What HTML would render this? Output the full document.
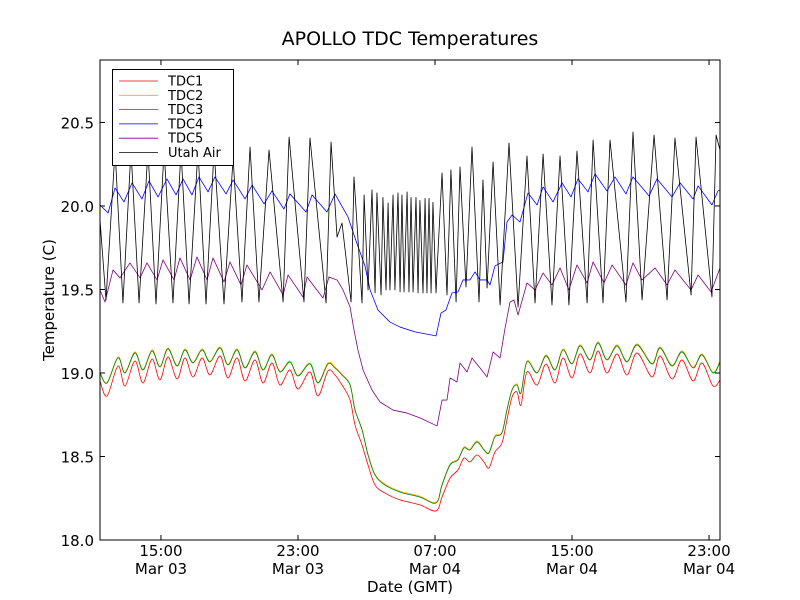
<!DOCTYPE html>
<html><head><meta charset="utf-8"><style>
html,body{margin:0;padding:0;background:#fff;}
svg{display:block;font-family:"DejaVu Sans","Liberation Sans",sans-serif;}
</style></head><body>
<svg id="chart" width="800" height="600" viewBox="0 0 800 600">
<rect x="0" y="0" width="800" height="600" fill="#fff"/>
<text x="410" y="45" text-anchor="middle" font-size="19">APOLLO TDC Temperatures</text>
<defs><clipPath id="pc"><rect x="100" y="60" width="620" height="480"/></clipPath></defs>
<g id="series" clip-path="url(#pc)"></g>
<rect x="100" y="60" width="620" height="480" fill="none" stroke="#000" stroke-width="1"/>
<g id="axes"></g>
<text x="410" y="592" text-anchor="middle" font-size="15">Date (GMT)</text>
<text transform="translate(54,300) rotate(-90)" text-anchor="middle" font-size="15">Temperature (C)</text>
<g id="legend"></g>
</svg>
<script>
// time in hours since Mar 03 00:00 GMT, temperature in C
const yTicks = [18.0, 18.5, 19.0, 19.5, 20.0, 20.5];
const xTickHours = [15, 23, 31, 39, 47];
const xTickTimes = ["15:00", "23:00", "07:00", "15:00", "23:00"];
const xTickDates = ["Mar 03", "Mar 03", "Mar 04", "Mar 04", "Mar 04"];
const seriesNames = ["TDC1", "TDC2", "TDC3", "TDC4", "TDC5", "Utah Air"];

const tdc3 = [[11.44,19.000],[11.85,18.940],[12.49,19.090],[12.90,19.000],[13.48,19.120],[13.95,19.018],[14.48,19.132],[14.94,19.036],[15.41,19.144],[15.94,19.042],[16.40,19.138],[16.87,19.060],[17.40,19.138],[17.86,19.066],[18.45,19.150],[18.91,19.048],[19.44,19.138],[19.91,19.030],[20.49,19.126],[20.96,19.018],[21.48,19.108],[21.95,19.006],[22.53,19.066],[23.00,18.982],[23.70,19.054],[24.17,18.940],[24.75,19.054],[25.16,19.030],[25.57,18.988],[26.04,18.928],[26.33,18.778],[26.74,18.659],[27.09,18.509],[27.50,18.389],[28.08,18.329],[28.96,18.287],[30.12,18.257],[31.06,18.222],[31.41,18.329],[31.88,18.449],[32.34,18.479],[32.69,18.551],[33.04,18.539],[33.45,18.587],[33.86,18.539],[34.15,18.521],[34.50,18.617],[34.91,18.641],[35.20,18.778],[35.50,18.898],[35.79,18.928],[36.02,18.880],[36.37,19.066],[36.96,19.000],[37.48,19.102],[38.01,19.018],[38.47,19.138],[39.00,19.054],[39.47,19.162],[40.05,19.078],[40.52,19.180],[41.04,19.078],[41.63,19.162],[42.21,19.066],[42.80,19.168],[43.67,19.054],[44.14,19.150],[44.84,19.042],[45.42,19.126],[46.07,19.030],[46.59,19.108],[47.23,19.000],[47.64,19.066]];
const tdc2 = [[11.44,19.004],[11.85,18.944],[12.49,19.096],[12.90,19.004],[13.48,19.126],[13.95,19.022],[14.48,19.138],[14.94,19.040],[15.41,19.150],[15.94,19.046],[16.40,19.144],[16.87,19.064],[17.40,19.144],[17.86,19.070],[18.45,19.156],[18.91,19.052],[19.44,19.144],[19.91,19.034],[20.49,19.132],[20.96,19.022],[21.48,19.114],[21.95,19.010],[22.53,19.072],[23.00,18.986],[23.70,19.060],[24.17,18.944],[24.75,19.060],[25.16,19.034],[25.57,18.992],[26.04,18.932],[26.33,18.782],[26.74,18.663],[27.09,18.513],[27.50,18.393],[28.08,18.335],[28.96,18.292],[30.12,18.262],[31.06,18.226],[31.41,18.333],[31.88,18.455],[32.34,18.484],[32.69,18.557],[33.04,18.543],[33.45,18.593],[33.86,18.543],[34.15,18.525],[34.50,18.623],[34.91,18.645],[35.20,18.782],[35.50,18.902],[35.79,18.934],[36.02,18.884],[36.37,19.072],[36.96,19.004],[37.48,19.108],[38.01,19.022],[38.47,19.144],[39.00,19.058],[39.47,19.168],[40.05,19.082],[40.52,19.186],[41.04,19.082],[41.63,19.168],[42.21,19.070],[42.80,19.174],[43.67,19.058],[44.14,19.156],[44.84,19.046],[45.42,19.132],[46.07,19.034],[46.59,19.114],[47.23,19.004],[47.64,19.072]];
const tdc1 = [[11.44,18.952],[11.85,18.862],[12.49,19.042],[12.90,18.922],[13.48,19.072],[13.95,18.940],[14.48,19.084],[14.94,18.958],[15.41,19.096],[15.94,18.964],[16.40,19.090],[16.87,18.976],[17.40,19.090],[17.86,18.988],[18.45,19.102],[18.91,18.970],[19.44,19.090],[19.91,18.952],[20.49,19.078],[20.96,18.940],[21.48,19.060],[21.95,18.928],[22.53,19.018],[23.00,18.904],[23.70,19.006],[24.17,18.862],[24.75,19.012],[25.16,18.988],[25.57,18.928],[26.04,18.838],[26.33,18.689],[26.74,18.569],[27.09,18.449],[27.50,18.329],[28.08,18.281],[28.96,18.240],[30.12,18.210],[31.06,18.174],[31.41,18.257],[31.88,18.371],[32.34,18.419],[32.69,18.491],[33.04,18.467],[33.45,18.509],[33.86,18.467],[34.15,18.431],[34.50,18.527],[34.91,18.581],[35.20,18.719],[35.50,18.856],[35.79,18.886],[36.02,18.808],[36.37,19.006],[36.96,18.928],[37.48,19.054],[38.01,18.940],[38.47,19.090],[39.00,18.970],[39.47,19.114],[40.05,19.000],[40.52,19.132],[41.04,19.000],[41.63,19.114],[42.21,18.988],[42.80,19.120],[43.67,18.976],[44.14,19.102],[44.84,18.964],[45.42,19.078],[46.07,18.952],[46.59,19.060],[47.23,18.922],[47.64,18.958]];
const tdc4 = [[11.44,20.006],[11.91,19.958],[12.32,20.108],[12.84,20.024],[13.31,20.138],[13.89,20.042],[14.30,20.150],[14.83,20.054],[15.35,20.162],[15.88,20.066],[16.29,20.162],[16.81,20.066],[17.22,20.174],[17.75,20.084],[18.15,20.174],[18.80,20.072],[19.21,20.156],[19.91,20.042],[20.32,20.126],[21.02,20.012],[21.48,20.090],[22.18,19.982],[22.53,20.072],[23.47,19.964],[23.82,20.066],[24.69,19.964],[25.16,20.072],[25.92,19.934],[26.33,19.808],[26.91,19.641],[27.21,19.497],[27.67,19.377],[28.37,19.305],[28.96,19.275],[29.83,19.246],[31.06,19.222],[31.35,19.359],[31.64,19.377],[31.99,19.479],[32.34,19.485],[32.64,19.557],[33.04,19.557],[33.34,19.605],[33.63,19.557],[34.04,19.557],[34.21,19.527],[34.50,19.641],[34.97,19.665],[35.20,19.904],[35.50,19.946],[35.96,19.904],[36.43,20.078],[36.96,20.006],[37.31,20.114],[37.89,20.024],[38.42,20.138],[38.94,20.054],[39.35,20.162],[39.93,20.084],[40.34,20.192],[41.04,20.090],[41.51,20.174],[42.15,20.072],[42.56,20.174],[43.50,20.060],[43.96,20.162],[44.84,20.054],[45.31,20.138],[46.07,20.042],[46.36,20.120],[47.17,20.006],[47.52,20.090],[47.64,20.096]];
const tdc5 = [[11.44,19.497],[11.73,19.425],[12.20,19.617],[12.61,19.569],[13.19,19.659],[13.78,19.569],[14.18,19.659],[14.77,19.557],[15.12,19.677],[15.76,19.557],[16.11,19.689],[16.70,19.557],[17.10,19.695],[17.69,19.557],[18.04,19.689],[18.68,19.545],[19.03,19.665],[19.67,19.527],[20.02,19.647],[20.90,19.497],[21.37,19.605],[22.13,19.467],[22.42,19.587],[23.29,19.455],[23.53,19.575],[24.46,19.449],[24.81,19.575],[25.28,19.557],[25.63,19.497],[26.04,19.395],[26.27,19.258],[26.50,19.138],[26.80,19.018],[27.32,18.898],[27.79,18.826],[28.55,18.778],[29.37,18.760],[30.12,18.731],[31.12,18.683],[31.41,18.838],[31.70,18.838],[31.88,18.970],[32.28,18.946],[32.46,19.060],[32.87,19.006],[33.16,19.090],[33.63,19.030],[34.04,18.976],[34.39,19.126],[34.80,19.090],[35.09,19.269],[35.38,19.425],[35.61,19.437],[35.85,19.347],[36.37,19.539],[36.84,19.497],[37.31,19.599],[37.83,19.527],[38.30,19.629],[38.82,19.497],[39.29,19.647],[39.88,19.539],[40.23,19.665],[40.87,19.539],[41.34,19.647],[42.15,19.527],[42.56,19.659],[43.09,19.557],[43.85,19.629],[44.55,19.527],[45.01,19.617],[45.95,19.497],[46.36,19.587],[47.12,19.485],[47.64,19.629]];
const utahAir = [[11.44,19.916],[11.79,19.437],[12.32,20.335],[12.78,19.419],[13.25,20.335],[13.72,19.419],[14.24,20.335],[14.71,19.413],[15.18,20.335],[15.70,19.419],[16.17,20.335],[16.64,19.413],[17.16,20.335],[17.63,19.413],[18.10,20.335],[18.68,19.413],[19.21,20.287],[19.73,19.425],[20.20,20.353],[20.72,19.425],[21.31,20.335],[22.13,19.425],[22.48,20.413],[23.35,19.425],[23.70,20.407],[24.64,19.419],[24.93,20.383],[25.28,19.814],[25.57,19.898],[26.10,19.425],[26.27,20.174],[26.74,19.419],[26.86,20.066],[27.09,19.497],[27.32,20.096],[27.50,19.479],[27.61,20.078],[27.85,19.467],[27.96,20.051],[28.14,19.497],[28.26,20.018],[28.37,19.497],[28.55,20.066],[28.66,19.497],[28.84,20.078],[28.96,19.485],[29.07,20.066],[29.19,19.485],[29.37,20.084],[29.48,19.485],[29.60,20.051],[29.72,19.485],[29.89,20.051],[30.01,19.479],[30.12,20.033],[30.30,19.479],[30.42,20.045],[30.53,19.479],[30.65,20.045],[30.77,19.479],[30.88,20.022],[31.06,19.479],[31.12,19.617],[31.41,20.198],[31.70,19.467],[31.93,20.216],[32.23,19.425],[32.46,20.234],[32.81,19.515],[33.16,20.353],[33.57,19.425],[33.80,20.156],[34.04,19.509],[34.39,20.263],[34.80,19.407],[35.32,20.377],[35.85,19.395],[36.37,20.299],[36.84,19.419],[37.31,20.311],[37.83,19.407],[38.30,20.299],[38.82,19.407],[39.29,20.329],[39.88,19.419],[40.23,20.395],[40.81,19.419],[41.22,20.395],[42.15,19.425],[42.56,20.443],[43.09,19.437],[43.79,20.425],[44.55,19.437],[45.01,20.407],[45.95,19.467],[46.24,20.413],[47.17,19.455],[47.41,20.425],[47.64,20.335]];

const NS = "http://www.w3.org/2000/svg";
const X0 = 100, X1 = 720, Y0 = 540, Y1 = 60;
const H0 = 11.44, H1 = 47.64, T0 = 18.0, T1 = 20.874;
function xScale(h){ return X0 + (h - H0) / (H1 - H0) * (X1 - X0); }
function yScale(t){ return Y0 - (t - T0) / (T1 - T0) * (Y0 - Y1); }

function linearPath(pts){
  return pts.map(function(p, j){ return (j ? "L" : "M") + p[0].toFixed(2) + "," + p[1].toFixed(2); }).join("");
}
function smoothPath(pts){
  let d = "M" + pts[0][0].toFixed(2) + "," + pts[0][1].toFixed(2);
  for (let i = 0; i < pts.length - 1; i++){
    const p0 = pts[Math.max(0, i - 1)], p1 = pts[i], p2 = pts[i + 1], p3 = pts[Math.min(pts.length - 1, i + 2)];
    const c1x = p1[0] + (p2[0] - p0[0]) / 6, c1y = p1[1] + (p2[1] - p0[1]) / 6;
    const c2x = p2[0] - (p3[0] - p1[0]) / 6, c2y = p2[1] - (p3[1] - p1[1]) / 6;
    d += "C" + c1x.toFixed(2) + "," + c1y.toFixed(2) + " " + c2x.toFixed(2) + "," + c2y.toFixed(2) + " " + p2[0].toFixed(2) + "," + p2[1].toFixed(2);
  }
  return d;
}

const seriesG = document.getElementById("series");
const allSeries = [tdc1, tdc2, tdc3, tdc4, tdc5, utahAir];
const colors = ["#ff0000", "#ffa500", "#008000", "#0000ff", "#800080", "#000000"];
const slugs = ["tdc1-line", "tdc2-line", "tdc3-line", "tdc4-line", "tdc5-line", "utah-air-line"];
const smooth = [true, true, true, false, false, false];
allSeries.forEach(function(s, i){
  const pts = s.map(function(pt){ return [xScale(pt[0]), yScale(pt[1])]; });
  const p = document.createElementNS(NS, "path");
  p.setAttribute("d", smooth[i] ? smoothPath(pts) : linearPath(pts));
  p.setAttribute("fill", "none");
  p.setAttribute("stroke", colors[i]);
  p.setAttribute("stroke-width", "0.8");
  p.setAttribute("stroke-linejoin", "round");
  
  
  seriesG.appendChild(p);
});

const axesG = document.getElementById("axes");
yTicks.forEach(function(t){
  const y = yScale(t);
  [[X0, X0 + 5], [X1, X1 - 5]].forEach(function(a){
    const l = document.createElementNS(NS, "line");
    l.setAttribute("x1", a[0]); l.setAttribute("x2", a[1]);
    l.setAttribute("y1", y); l.setAttribute("y2", y);
    l.setAttribute("stroke", "#000");
    
    
    axesG.appendChild(l);
  });
  const tx = document.createElementNS(NS, "text");
  tx.setAttribute("x", X0 - 6); tx.setAttribute("y", y + 6);
  tx.setAttribute("text-anchor", "end"); tx.setAttribute("font-size", "15");
  tx.textContent = t.toFixed(1);
  
  
  axesG.appendChild(tx);
});
xTickHours.forEach(function(h, i){
  const x = xScale(h);
  [[Y0, Y0 - 5], [Y1, Y1 + 5]].forEach(function(a){
    const l = document.createElementNS(NS, "line");
    l.setAttribute("x1", x); l.setAttribute("x2", x);
    l.setAttribute("y1", a[0]); l.setAttribute("y2", a[1]);
    l.setAttribute("stroke", "#000");
    
    
    axesG.appendChild(l);
  });
  const t1 = document.createElementNS(NS, "text");
  t1.setAttribute("x", x); t1.setAttribute("y", 556);
  t1.setAttribute("text-anchor", "middle"); t1.setAttribute("font-size", "15");
  t1.textContent = xTickTimes[i];
  
  
  axesG.appendChild(t1);
  const t2 = document.createElementNS(NS, "text");
  t2.setAttribute("x", x); t2.setAttribute("y", 574);
  t2.setAttribute("text-anchor", "middle"); t2.setAttribute("font-size", "15");
  t2.textContent = xTickDates[i];
  
  
  axesG.appendChild(t2);
});

const legG = document.getElementById("legend");
const box = document.createElementNS(NS, "rect");
box.setAttribute("x", 112.5); box.setAttribute("y", 69.5);
box.setAttribute("width", 121); box.setAttribute("height", 96);
box.setAttribute("fill", "#fff"); box.setAttribute("stroke", "#000");


legG.appendChild(box);
seriesNames.forEach(function(n, i){
  const y = 81 + i * 14.3;
  const l = document.createElementNS(NS, "line");
  l.setAttribute("x1", 119); l.setAttribute("x2", 158);
  l.setAttribute("y1", y); l.setAttribute("y2", y);
  l.setAttribute("stroke", colors[i]); l.setAttribute("stroke-width", "0.8");
  
  
  legG.appendChild(l);
  const t = document.createElementNS(NS, "text");
  t.setAttribute("x", 168); t.setAttribute("y", y + 4.5);
  t.setAttribute("font-size", "13");
  t.textContent = n;
  
  
  legG.appendChild(t);
});
</script>
</body></html>
